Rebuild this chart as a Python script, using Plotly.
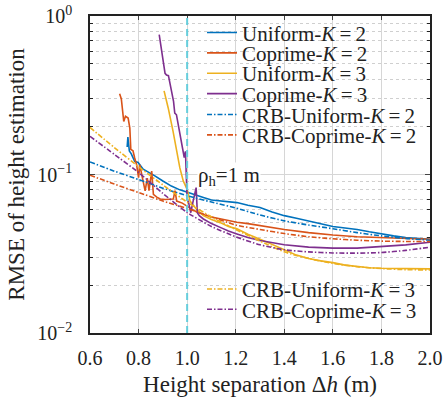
import plotly.graph_objects as go

# ---------------- data ----------------
uni2_x = [0.753, 0.756, 0.762, 0.770, 0.784, 0.798, 0.819, 0.840, 0.867, 0.900, 0.935, 0.970, 1.000,
          1.033, 1.067, 1.100, 1.150, 1.205, 1.250, 1.300, 1.350, 1.400, 1.450, 1.500, 1.550, 1.600,
          1.650, 1.700, 1.750, 1.800, 1.850, 1.900, 1.950, 2.000]
uni2_y = [0.149, 0.172, 0.141, 0.135, 0.121, 0.119, 0.108, 0.104, 0.098, 0.091, 0.0845, 0.080, 0.077,
          0.074, 0.0715, 0.069, 0.068, 0.0665, 0.064, 0.062, 0.058, 0.055, 0.053, 0.051, 0.049, 0.047,
          0.046, 0.045, 0.0435, 0.042, 0.041, 0.040, 0.0395, 0.039]

cop2_x = [0.722, 0.729, 0.739, 0.746, 0.757, 0.764, 0.768, 0.777, 0.784, 0.792, 0.800, 0.805, 0.813,
          0.820, 0.827, 0.836, 0.843, 0.854, 0.861, 0.875, 0.889, 0.910, 0.930, 0.943, 0.950, 0.957,
          0.980, 1.000, 1.030, 1.067, 1.100, 1.150, 1.205, 1.250, 1.300, 1.400, 1.500, 1.600, 1.700,
          1.800, 1.900, 2.000]
cop2_y = [0.323, 0.300, 0.216, 0.233, 0.227, 0.196, 0.144, 0.141, 0.127, 0.115, 0.0955, 0.115, 0.100,
          0.0866, 0.0788, 0.095, 0.079, 0.105, 0.075, 0.072, 0.070, 0.0695, 0.070, 0.070, 0.079, 0.068,
          0.066, 0.063, 0.059, 0.056, 0.054, 0.052, 0.050, 0.049, 0.0475, 0.045, 0.043, 0.0415, 0.0405,
          0.040, 0.0395, 0.039]

uni3_x = [0.905, 0.922, 0.942, 0.956, 0.970, 0.984, 1.000, 1.012, 1.040, 1.067, 1.100, 1.136, 1.170,
          1.205, 1.250, 1.300, 1.350, 1.400, 1.450, 1.500, 1.550, 1.600, 1.650, 1.700, 1.750, 1.800,
          1.850, 1.900, 1.950, 2.000]
uni3_y = [0.337, 0.263, 0.187, 0.144, 0.110, 0.0911, 0.0805, 0.068, 0.060, 0.055, 0.052, 0.0497, 0.047,
          0.0454, 0.042, 0.0391, 0.036, 0.0335, 0.031, 0.0295, 0.0285, 0.0278, 0.0268, 0.0263, 0.0258,
          0.0256, 0.0255, 0.0254, 0.0254, 0.0254]

cop3_x = [0.885, 0.909, 0.915, 0.923, 0.944, 0.949, 0.956, 0.970, 0.984, 0.988, 0.993, 0.997, 1.000,
          1.006, 1.015, 1.022, 1.029, 1.037, 1.042, 1.050, 1.067, 1.100, 1.136, 1.170, 1.205, 1.250,
          1.300, 1.350, 1.400, 1.500, 1.600, 1.700, 1.800, 1.900, 2.000]
cop3_y = [0.763, 0.435, 0.424, 0.420, 0.289, 0.244, 0.238, 0.180, 0.141, 0.128, 0.140, 0.075, 0.0699,
          0.0665, 0.0574, 0.065, 0.0716, 0.0826, 0.0574, 0.055, 0.0524, 0.049, 0.0464, 0.044, 0.0422,
          0.040, 0.0383, 0.037, 0.036, 0.0348, 0.0343, 0.0343, 0.035, 0.036, 0.0374]

crb_x = [0.6, 0.7, 0.8, 0.9, 1.0, 1.1, 1.2, 1.3, 1.4, 1.5, 1.6, 1.7, 1.8, 1.9, 2.0]
crb_uni2 = [0.120, 0.105, 0.093, 0.082, 0.0735, 0.067, 0.0615, 0.0555, 0.051, 0.048, 0.0455, 0.043, 0.041, 0.0395, 0.0385]
crb_cop2 = [0.099, 0.087, 0.077, 0.068, 0.061, 0.054, 0.048, 0.045, 0.0424, 0.0405, 0.0393, 0.0385, 0.038, 0.0378, 0.0378]
crb_uni3 = [0.198, 0.148, 0.112, 0.086, 0.067, 0.054, 0.045, 0.038, 0.0325, 0.0295, 0.0275, 0.0262, 0.0255, 0.0251, 0.025]
crb_cop3 = [0.174, 0.134, 0.103, 0.076, 0.0576, 0.047, 0.0405, 0.036, 0.0335, 0.0325, 0.032, 0.0319, 0.0322, 0.0332, 0.0348]

series_names = ["Uniform-<i>K</i>\u2009=\u20092", "Coprime-<i>K</i>\u2009=\u20092",
                "Uniform-<i>K</i>\u2009=\u20093", "Coprime-<i>K</i>\u2009=\u20093",
                "CRB-Uniform-<i>K</i>\u2009=\u20092", "CRB-Coprime-<i>K</i>\u2009=\u20092",
                "CRB-Uniform-<i>K</i>\u2009=\u20093", "CRB-Coprime-<i>K</i>\u2009=\u20093"]

x_ticks = [0.6, 0.8, 1.0, 1.2, 1.4, 1.6, 1.8, 2.0]
x_ticktext = ["0.6", "0.8", "1.0", "1.2", "1.4", "1.6", "1.8", "2.0"]
y_ticks = [0.01, 0.1, 1]
y_ticktext = ["10<sup>\u22122</sup>", "10<sup>\u22121</sup>", "10<sup>0</sup>"]
y_minor = [0.02, 0.03, 0.04, 0.05, 0.06, 0.07, 0.08, 0.09, 0.2, 0.3, 0.4, 0.5, 0.6, 0.7, 0.8, 0.9]
RHO_H = 1.0

# ---------------- style / layout ----------------
W, H = 444, 399
ML, MR, MT, MB = 90, 14, 14, 66
PW, PH = W - ML - MR, H - MT - MB

BLUE = "#0072BD"
RED = "#D95319"
ORANGE = "#EDB120"
PURPLE = "#7E2F8E"
CYAN = "#66CEDC"
FONT = "Liberation Serif"
TXT = "#222222"
DASHDOT = "5px,2px,1.5px,2px"

# legend rows (pixel centres) for each entry
legend_rows_px = [31, 51.5, 72, 92.5, 113.5, 134, 289, 309.5]
legend_left_px = 202


def px_x(p):
    return (p - ML) / PW


def px_y(p):
    return (H - MB - p) / PH


def legend_key(i):
    return "legend" if i == 0 else f"legend{i + 1}"


fig = go.Figure()

solid = [(uni2_x, uni2_y, BLUE), (cop2_x, cop2_y, RED), (uni3_x, uni3_y, ORANGE), (cop3_x, cop3_y, PURPLE)]
for i, (xs, ys, c) in enumerate(solid):
    fig.add_trace(go.Scatter(x=xs, y=ys, mode="lines", name=series_names[i],
                             legend=legend_key(i), showlegend=True,
                             line=dict(color=c, width=1.6)))

crbs = [(crb_uni2, BLUE), (crb_cop2, RED), (crb_uni3, ORANGE), (crb_cop3, PURPLE)]
for j, (ys, c) in enumerate(crbs):
    i = j + 4
    fig.add_trace(go.Scatter(x=crb_x, y=ys, mode="lines", name=series_names[i],
                             legend=legend_key(i), showlegend=True,
                             line=dict(color=c, width=1.6, dash=DASHDOT, shape="spline", smoothing=0.6)))

fig.add_vline(x=RHO_H, line=dict(color=CYAN, width=2, dash="7px,4px"), layer="above")

# white panels behind the two legend groups (hide grid lines as in the original)
fig.add_shape(type="rect", xref="paper", yref="paper", x0=px_x(legend_left_px), x1=1,
              y0=px_y(149), y1=1, fillcolor="white", line_width=0, layer="between")
fig.add_shape(type="rect", xref="paper", yref="paper", x0=px_x(legend_left_px), x1=1,
              y0=0, y1=px_y(274), fillcolor="white", line_width=0, layer="between")

fig.add_annotation(x=1.04, y=-1.01, xref="x", yref="y", xanchor="left", yanchor="middle",
                   text="\u03c1<sub>h</sub>=1 m", showarrow=False, bgcolor="white",
                   font=dict(family=FONT, size=21, color=TXT), borderpad=0)

legends = {}
for k, rp in enumerate(legend_rows_px):
    legends[legend_key(k)] = dict(x=px_x(legend_left_px), y=px_y(rp), xanchor="left", yanchor="middle",
                                  bgcolor="rgba(255,255,255,0)", borderwidth=0, visible=True,
                                  font=dict(size=21, family=FONT, color=TXT))

grid_c = "#d6d6d6"
fig.update_layout(
    width=W, height=H,
    margin=dict(l=ML, r=MR, t=MT, b=MB),
    paper_bgcolor="white", plot_bgcolor="white",
    showlegend=True,
    font=dict(family=FONT, size=20, color=TXT),
    xaxis=dict(range=[0.6, 2.0], tickvals=x_ticks, ticktext=x_ticktext, ticks="inside", ticklen=4,
               showline=True, linecolor=TXT, linewidth=1.5, mirror="allticks",
               showgrid=True, gridcolor=grid_c, gridwidth=1, zeroline=False, automargin=False,
               ticklabelstandoff=6, tickfont=dict(size=20),
               title=dict(text="Height separation \u0394<i>h</i> (m)", font=dict(size=23), standoff=8)),
    yaxis=dict(type="log", range=[-2, 0], tickvals=y_ticks, ticktext=y_ticktext, ticks="inside", ticklen=5,
               showline=True, linecolor=TXT, linewidth=1.5, mirror="allticks",
               showgrid=True, gridcolor=grid_c, gridwidth=1, zeroline=False, automargin=False,
               ticklabelstandoff=12, tickfont=dict(size=20),
               minor=dict(tickvals=y_minor, ticks="inside", ticklen=3, tickcolor=TXT,
                          showgrid=True, gridcolor="#cfcfcf", griddash="dot", gridwidth=1),
               title=dict(text="RMSE of height estimation", font=dict(size=23), standoff=6)),
    **legends,
)

fig.write_html("out.html")
